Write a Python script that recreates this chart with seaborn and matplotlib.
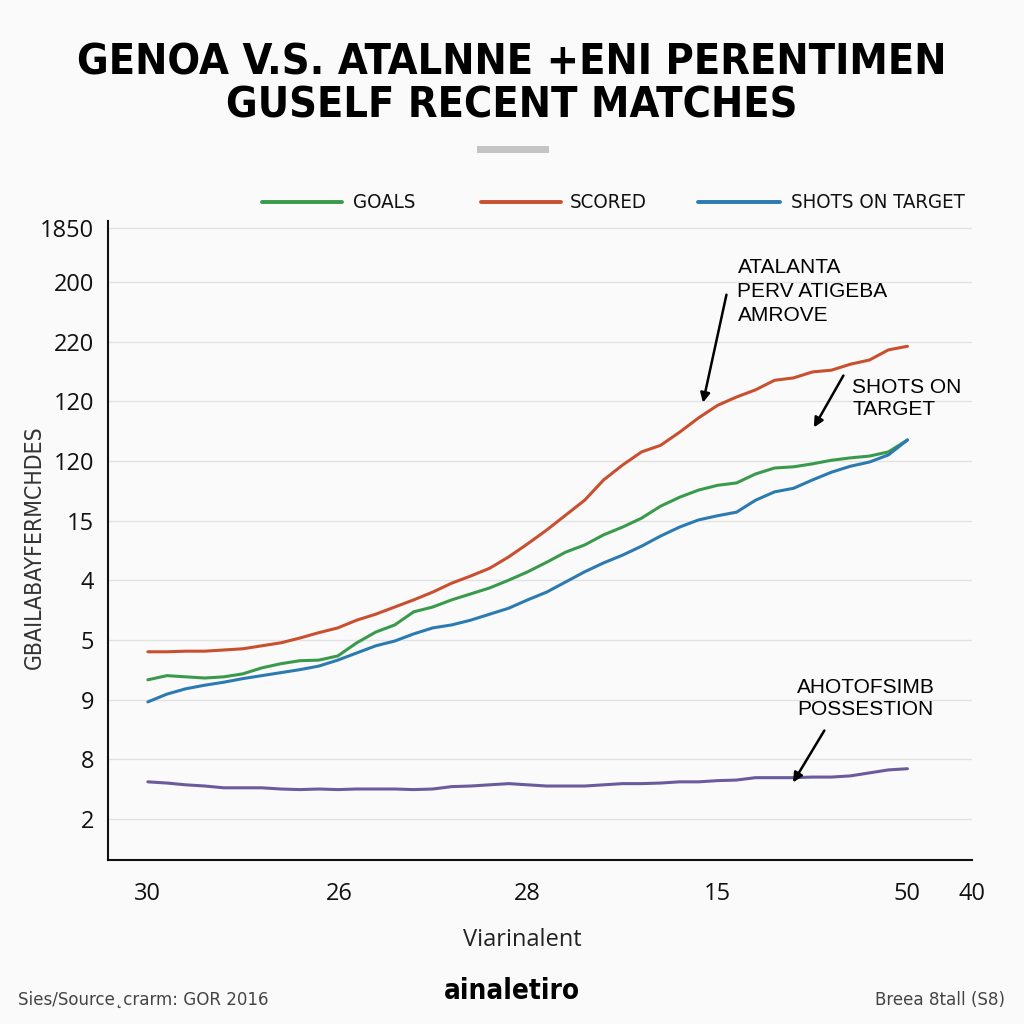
import numpy as np
import pandas as pd
import matplotlib
matplotlib.use("Agg")
import matplotlib.pyplot as plt
import seaborn as sns
from matplotlib.lines import Line2D

# ---- data ----
match_idx = list(range(41))
goals = [3.33, 3.40, 3.38, 3.36, 3.38, 3.43, 3.53, 3.60, 3.65, 3.66, 3.73, 3.95, 4.13, 4.25,
         4.47, 4.55, 4.67, 4.77, 4.87, 5.00, 5.14, 5.30, 5.47, 5.59, 5.76, 5.89, 6.04, 6.24,
         6.39, 6.51, 6.59, 6.63, 6.78, 6.88, 6.90, 6.95, 7.01, 7.05, 7.08, 7.15, 7.35]
scored = [3.80, 3.80, 3.81, 3.81, 3.83, 3.85, 3.90, 3.95, 4.03, 4.12, 4.20, 4.33, 4.43, 4.55,
          4.67, 4.80, 4.95, 5.07, 5.20, 5.39, 5.61, 5.84, 6.09, 6.34, 6.68, 6.93, 7.15, 7.26,
          7.48, 7.72, 7.93, 8.07, 8.19, 8.35, 8.39, 8.49, 8.52, 8.62, 8.69, 8.86, 8.92]
shots = [2.96, 3.09, 3.18, 3.24, 3.29, 3.35, 3.40, 3.45, 3.50, 3.56, 3.66, 3.78, 3.90, 3.98,
         4.10, 4.20, 4.25, 4.33, 4.43, 4.53, 4.67, 4.80, 4.97, 5.14, 5.29, 5.42, 5.57, 5.74,
         5.89, 6.01, 6.08, 6.14, 6.34, 6.48, 6.54, 6.68, 6.81, 6.91, 6.98, 7.10, 7.35]
possession = [1.62, 1.60, 1.57, 1.55, 1.52, 1.52, 1.52, 1.50, 1.49, 1.50, 1.49, 1.50, 1.50, 1.50,
              1.49, 1.50, 1.54, 1.55, 1.57, 1.59, 1.57, 1.55, 1.55, 1.55, 1.57, 1.59, 1.59, 1.60,
              1.62, 1.62, 1.64, 1.65, 1.69, 1.69, 1.69, 1.70, 1.70, 1.72, 1.77, 1.82, 1.84]

series_names = ["GOALS", "SCORED", "SHOTS ON TARGET", "POSSESSION"]
series_colors = ["#3a9a4c", "#c9502f", "#2b7bb0", "#6b5b9c"]

y_tick_pos = [1, 2, 3, 4, 5, 6, 7, 8, 9, 10, 10.9]
y_tick_labels = ["2", "8", "9", "5", "4", "15", "120", "120", "220", "200", "1850"]
x_tick_pos = [0, 10.1, 20, 30, 40, 43.4]
x_tick_labels = ["30", "26", "28", "15", "50", "40"]

title_text = "GENOA V.S. ATALNNE +ENI PERENTIMEN\nGUSELF RECENT MATCHES"
y_label = "GBAILABAYFERMCHDES"
x_label = "Viarinalent"

df = pd.DataFrame({
    "match": match_idx * 4,
    "value": goals + scored + shots + possession,
    "series": sum([[n] * len(match_idx) for n in series_names], []),
})

# ---- style ----
sns.set_theme(style="white")
bg = "#fafafa"
plt.rcParams["font.family"] = ["Open Sans", "DejaVu Sans"]

fig = plt.figure(figsize=(10.24, 10.24), dpi=100, facecolor=bg)
ax = fig.add_axes([108 / 1024, 1 - 860 / 1024, (972 - 108) / 1024, (860 - 221) / 1024])
ax.set_facecolor(bg)

sns.lineplot(data=df, x="match", y="value", hue="series", palette=series_colors,
             hue_order=series_names, linewidth=2.2, ax=ax, legend=False)

ax.set_xlim(-2.1, 43.4)
ax.set_ylim(0.31, 11.02)
ax.set_yticks(y_tick_pos)
ax.set_yticklabels(y_tick_labels, fontsize=17, color="#111111")
ax.set_xticks(x_tick_pos)
ax.set_xticklabels(x_tick_labels, fontsize=17, color="#111111")
ax.tick_params(axis="y", direction="in", length=9, width=1.2, color="#222222", pad=10)
ax.tick_params(axis="x", direction="out", length=10, width=1.2, color="#222222", pad=6)
ax.grid(axis="y", color="#e2e2e2", linewidth=1.0)
for s in ["top", "right"]:
    ax.spines[s].set_visible(False)
for s in ["left", "bottom"]:
    ax.spines[s].set_color("#111111")
    ax.spines[s].set_linewidth(1.5)
ax.set_xlabel(x_label, fontsize=17, color="#222222")
ax.xaxis.set_label_coords(0.48, -0.107)
ax.set_ylabel(y_label, fontsize=16.5, color="#333333", fontstretch="condensed",
              fontfamily=["DejaVu Sans"])
ax.yaxis.set_label_coords(-0.072, 0.49)

# annotations
akw = dict(arrowstyle="-|>", color="black", lw=1.8, mutation_scale=14)
tkw = dict(fontsize=15, va="top", ha="left", color="black",
           fontfamily=["Liberation Sans", "DejaVu Sans"])
ax.annotate("", xy=(29.2, 7.93), xytext=(30.5, 9.83), arrowprops=akw)
ax.text(31.05, 10.40, "ATALANTA\nPERV ATIGEBA\nAMROVE", linespacing=1.35, **tkw)
ax.annotate("", xy=(35.0, 7.52), xytext=(36.7, 8.47), arrowprops=akw)
ax.text(37.1, 8.39, "SHOTS ON\nTARGET", linespacing=1.2, **tkw)
ax.annotate("", xy=(33.9, 1.57), xytext=(35.7, 2.52), arrowprops=akw)
ax.text(34.2, 3.36, "AHOTOFSIMB\nPOSSESTION", linespacing=1.2, **tkw)

# title
fig.text(0.5, 1 - 84 / 1024, title_text, ha="center", va="center", fontsize=31,
         fontweight="bold", fontstretch="condensed", color="black", linespacing=1.05,
         fontfamily=["DejaVu Sans"])
fig.add_artist(plt.Rectangle((477 / 1024, 1 - 153 / 1024), 72 / 1024, 7 / 1024,
                             transform=fig.transFigure, color="#c4c4c4", lw=0))

# legend (manual placement)
leg_y = 1 - 202 / 1024
for (x0, x1, tx), name, col in zip([(262, 342, 353), (481, 561, 570), (698, 780, 791)],
                                   series_names[:3], series_colors[:3]):
    fig.add_artist(Line2D([x0 / 1024, x1 / 1024], [leg_y, leg_y], transform=fig.transFigure,
                          color=col, lw=2.8))
    fig.text(tx / 1024, leg_y, name, ha="left", va="center", fontsize=14.7, color="#111111",
             fontstretch="condensed", fontfamily=["DejaVu Sans"])

# footer
fkw = dict(fontsize=13.3, color="#444444", va="center", fontstretch="condensed",
           fontfamily=["DejaVu Sans"])
fig.text(18 / 1024, 1 - 1000 / 1024, "Sies/Source˛crarm: GOR 2016", ha="left", **fkw)
fig.text(512 / 1024, 1 - 991 / 1024, "ainaletiro", ha="center", va="center",
         fontsize=20, fontweight="bold", fontstretch="condensed", color="black",
         fontfamily=["DejaVu Sans"])
fig.text(1005 / 1024, 1 - 1000 / 1024, "Breea 8tall (S8)", ha="right", **fkw)

fig.savefig("out.png", dpi=100, facecolor=bg)
